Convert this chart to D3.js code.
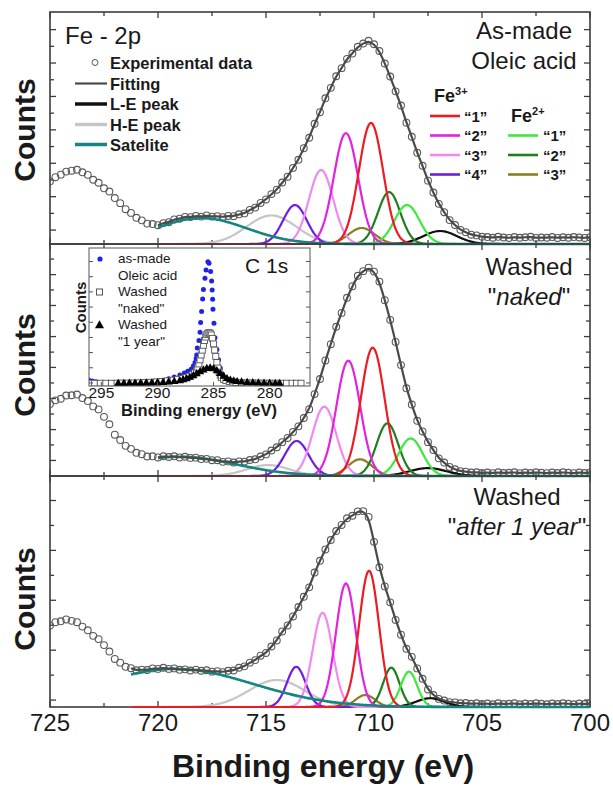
<!DOCTYPE html>
<html><head><meta charset="utf-8">
<script src="https://cdn.jsdelivr.net/npm/d3@7"></script>
<style>
body{margin:0;background:#fff}
svg{display:block}
text{font-family:"Liberation Sans",Arial,Helvetica,sans-serif;fill:#1a1a1a}
</style></head>
<body><svg id="chart" width="613" height="786"></svg>
<script>
// ---------------- DATA ----------------
// Experimental Fe 2p counts (arb. units, 0-100 of panel), 725 -> 700 eV every 0.25 eV
const energyStart = 725, energyStep = 0.25;
const asMadeCounts = [
 27.0,28.8,29.9,31.2,31.6,32.0,30.9,29.8,27.7,26.4,
 24.0,22.6,19.8,17.6,15.0,13.4,11.3,10.2,8.8,8.6,
 8.1,9.0,9.4,10.6,10.9,11.7,11.6,12.1,11.8,12.3,
 11.8,12.0,11.6,12.1,12.0,12.8,13.2,14.7,15.7,17.7,
 19.2,21.5,23.4,26.5,29.0,32.8,36.3,41.3,45.8,51.8,
 56.8,62.8,67.3,72.3,75.8,79.8,82.1,85.0,86.4,87.6,
 86.1,83.2,77.8,72.2,65.8,59.7,52.3,46.2,39.3,33.7,
 27.3,22.2,17.3,13.7,10.3,8.2,6.1,5.1,4.0,3.7,
 3.1,3.0,2.7,3.1,2.8,2.6,3.0,2.7,2.9,3.1,
 2.6,2.8,2.7,3.0,2.6,2.9,2.7,3.0,2.8,2.6,
 2.9];
const washedNakedCounts = [
 31.0,32.6,33.3,34.7,34.8,35.1,33.6,32.3,30.0,28.7,
 25.5,22.3,17.8,15.5,13.0,11.7,10.0,9.4,8.4,8.5,
 8.0,8.5,8.2,8.5,8.0,8.3,7.8,7.9,7.3,7.4,
 6.8,6.8,6.1,6.3,5.8,6.3,6.2,6.9,7.2,8.4,
 9.3,11.0,12.4,14.6,16.4,19.0,21.4,25.0,28.8,35.3,
 41.8,49.8,56.8,64.3,70.3,76.8,81.8,86.3,88.3,89.8,
 88.1,83.8,75.8,67.3,57.8,47.8,37.8,30.8,23.8,19.2,
 14.6,11.2,7.6,5.8,3.9,2.9,2.1,1.9,1.5,1.6,
 1.3,1.5,1.2,1.6,1.3,1.4,1.6,1.2,1.5,1.3,
 1.6,1.4,1.2,1.5,1.3,1.6,1.4,1.2,1.5,1.3,
 1.5];
const washedYearCounts = [
 35.3,36.7,37.1,37.9,37.3,36.7,34.8,33.2,30.8,29.4,
 26.8,24.0,20.8,19.2,17.4,16.8,15.9,16.2,16.0,16.7,
 16.5,17.0,16.5,16.7,16.1,16.3,15.8,16.2,15.7,15.9,
 15.3,15.5,15.1,15.7,15.8,17.0,17.6,19.2,20.3,22.2,
 23.4,26.2,28.8,32.7,35.3,39.2,43.3,47.7,51.8,58.2,
 63.3,68.2,72.3,76.2,78.8,81.7,82.8,84.7,84.8,82.3,
 71.5,60.5,52.2,45.3,37.7,31.3,25.2,21.7,16.7,12.2,
 7.6,5.2,3.5,2.8,2.1,2.0,1.6,1.7,1.4,1.6,
 1.3,1.5,1.2,1.6,1.3,1.4,1.6,1.2,1.5,1.3,
 1.6,1.4,1.2,1.5,1.3,1.6,1.4,1.2,1.5,1.3,
 1.5];
const fitStartEnergy = [720, 720, 721.25];

// Fitted components: Fe3+ "1".."4", Fe2+ "1".."3", L-E, H-E, Satelite
const componentNames = ["Fe3+ 1","Fe3+ 2","Fe3+ 3","Fe3+ 4","Fe2+ 1","Fe2+ 2","Fe2+ 3","L-E peak","H-E peak","Satelite"];
const peakCenters = [
 [710.14,711.30,712.45,713.66,708.47,709.30,710.57,706.94,714.75,718.0],
 [710.06,711.19,712.30,713.58,708.30,709.38,710.65,707.50,714.90,719.0],
 [710.23,711.30,712.38,713.60,708.38,709.20,710.40,707.40,714.50,719.2]];
const peakHeights = [
 [52.2,47.8,31.9,16.8,16.8,22.4,6.9,5.6,12.3,11.2],
 [55.3,49.7,29.9,15.1,16.2,22.7,7.2,3.4,4.7,8.3],
 [59.0,53.5,40.8,17.4,15.3,17.0,5.2,3.8,11.7,16.5]];
const peakWidths = [
 [0.56,0.56,0.56,0.55,0.58,0.52,0.60,0.78,1.15,2.1],
 [0.55,0.55,0.55,0.55,0.55,0.50,0.55,0.85,1.00,2.6],
 [0.46,0.46,0.46,0.43,0.38,0.38,0.45,0.65,1.30,3.6]];

// C 1s inset: [binding energy, counts]
const c1sAsMade = [[296.1,4.2],[295.8,3.6],[295.5,3.0],[295.2,2.6],[294.8,2.4],[294.4,2.3],[294,2.3],[293.5,2.3],[293,2.3],[292.5,2.4],[292,2.5],[291.5,2.6],[291,2.8],[290.5,3.0],[290,3.5],[289.5,4.2],[289,5.3],[288.5,6.5],[288,8.0],[287.6,9.4],[287.3,10.6],[287.0,12.2],[286.8,14.5],[286.65,17],[286.55,20],[286.5,22.5],[286.45,27.5],[286.3,33],[286.2,39],[286.15,46],[286.06,54],[285.97,63],[285.9,70],[285.76,78],[285.67,84],[285.5,90],[285.4,89],[285.26,83],[285.17,76],[285.12,69.6],[285.08,62.8],[285.05,55.6],[284.96,45.4],[284.87,35],[284.7,26.5],[284.55,19],[284.4,13],[284.2,8.5],[284,5.5],[283.7,3.8],[283.4,3]];
const c1sNaked = [[296.1,2],[295.6,2],[295.1,2],[294.6,2],[294.1,2],[293.6,2],[293.1,2.1],[292.6,2.1],[292.1,2.2],[291.6,2.3],[291.1,2.5],[290.6,2.7],[290.1,3],[289.6,3.3],[289.1,3.7],[288.6,4.2],[288.2,4.8],[287.8,5.5],[287.5,6.2],[287.2,7],[286.9,8.2],[286.7,9.5],[286.5,11.5],[286.4,13.5],[286.3,16],[286.2,19],[286.1,22.5],[286.0,26],[285.9,29.5],[285.8,33],[285.7,35.5],[285.6,37.3],[285.5,38.3],[285.4,38.6],[285.3,38.2],[285.2,37],[285.1,34.5],[285.0,30.5],[284.9,26],[284.8,21.5],[284.7,17],[284.6,13],[284.5,10],[284.4,7.8],[284.3,6.2],[284.1,4.8],[283.9,4],[283.6,3.3],[283.3,2.9],[283,2.6],[282.5,2.4],[282,2.3],[281.5,2.2],[281,2.1],[280.5,2.1],[280,2],[279.5,2],[279,2],[278.5,2],[278,2],[277.6,2],[277.2,2]];
const c1sOneYear = [[293.5,1.8],[293,1.8],[292.5,1.9],[292,1.9],[291.5,2],[291,2.1],[290.5,2.2],[290,2.3],[289.5,2.5],[289,2.8],[288.5,3.2],[288,3.8],[287.7,4.4],[287.4,5.2],[287.1,6.2],[286.8,7.4],[286.5,8.8],[286.2,10.3],[285.9,11.6],[285.6,12.6],[285.3,13],[285,12.5],[284.7,11],[284.4,9],[284.1,7],[283.8,5.3],[283.5,4.2],[283.2,3.5],[282.9,3.1],[282.5,2.8],[282,2.5],[281.5,2.3],[281,2.1],[280.5,2],[280,1.9],[279.5,1.8],[279.1,1.8]];

// Axis ticks / labels
const xTickLabels = [725,720,715,710,705,700];
const xMinorStep = 2.5;
const insetTickLabels = [295,290,285,280];
const yTicksPanel = [
 [6,13.2,20.4,27.6,34.8,42,49.2,56.4,63.6,70.8,78,85.2,92.4],
 [6.7,13.4,20,26.7,33.4,40.1,46.8,53.4,60.1,66.8,73.5,80.2,86.8,93.5],
 [3,13.8,24.6,35.4,46.2,57,67.8,78.6,89.4]];
const insetYTicks = [2.2,13.2,24.2,35.2,46.2,57.2,68.2,79.2,90.2];

// ---------------- STYLE / LAYOUT ----------------
const compColors = ["#ec1c24","#e024e0","#f08af0","#6e1ee0","#3ee83e","#1f7f1f","#8c7d1e","#111111","#c6c6c6","#15857f"];
const drawOrder = [8,7,6,5,4,3,2,1,0,9];
const plotLeft = 50, plotRight = 590;
const panelTop = [12, 244, 476], panelBottom = [244, 476, 707];

const svg = d3.select("#chart");
const x = d3.scaleLinear().domain([725,700]).range([plotLeft, plotRight]);
const expSets = [asMadeCounts, washedNakedCounts, washedYearCounts];
const frameColor = "#3c3c3c";

expSets.forEach((counts, i) => {
  const y = d3.scaleLinear().domain([0,100]).range([panelBottom[i], panelTop[i]]);
  const g = svg.append("g");
  g.append("rect").attr("x",plotLeft).attr("y",panelTop[i]).attr("width",plotRight-plotLeft)
    .attr("height",panelBottom[i]-panelTop[i]).attr("fill","none").attr("stroke",frameColor).attr("stroke-width",1.6);
  d3.range(700, 725.01, xMinorStep).forEach(e => {
    const major = Math.abs(e % 5) < 1e-6;
    const len = major ? 6 : 4;
    g.append("line").attr("x1",x(e)).attr("x2",x(e)).attr("y1",panelBottom[i]).attr("y2",panelBottom[i]-len).attr("stroke",frameColor).attr("stroke-width",1.3);
    g.append("line").attr("x1",x(e)).attr("x2",x(e)).attr("y1",panelTop[i]).attr("y2",panelTop[i]+len).attr("stroke",frameColor).attr("stroke-width",1.3);
  });
  yTicksPanel[i].forEach((v,k) => {
    const len = k % 2 === 0 ? 6 : 4;
    g.append("line").attr("x1",plotLeft).attr("x2",plotLeft+len).attr("y1",y(v)).attr("y2",y(v)).attr("stroke",frameColor).attr("stroke-width",1.3);
    g.append("line").attr("x1",plotRight).attr("x2",plotRight-len).attr("y1",y(v)).attr("y2",y(v)).attr("stroke",frameColor).attr("stroke-width",1.3);
  });

  const clipId = "clip" + i;
  svg.append("clipPath").attr("id",clipId).append("rect")
    .attr("x",plotLeft).attr("y",panelTop[i]).attr("width",plotRight-plotLeft).attr("height",panelBottom[i]-panelTop[i]+2);
  const inner = g.append("g").attr("clip-path",`url(#${clipId})`);

  const pts = counts.map((v,k) => [energyStart - k*energyStep, v]);
  inner.append("g").selectAll("circle").data(pts).join("circle")
    .attr("cx",d=>x(d[0])).attr("cy",d=>y(d[1])).attr("r",3.4)
    .attr("fill","none").attr("stroke","#5a5a5a").attr("stroke-width",1.1);

  const es = d3.range(fitStartEnergy[i], 699.99, -0.05);
  drawOrder.forEach(j => {
    const c = peakCenters[i][j], h = peakHeights[i][j], s = peakWidths[i][j];
    const line = d3.line().x(e=>x(e)).y(e=>y(h*Math.exp(-((e-c)*(e-c))/(2*s*s))));
    inner.append("path").attr("d",line(es)).attr("fill","none")
      .attr("stroke",compColors[j]).attr("stroke-width", j===9 ? 2.6 : 2.2);
  });

  const fitPts = pts.filter(d => d[0] <= fitStartEnergy[i] + 1e-9);
  inner.append("path").attr("d", d3.line().x(d=>x(d[0])).y(d=>y(d[1])).curve(d3.curveBasis)(fitPts))
    .attr("fill","none").attr("stroke","#4a4a4a").attr("stroke-width",2.2);
});

const countsCenters = [130, 365, 599];
countsCenters.forEach(cy => {
  svg.append("text").attr("transform",`translate(35,${cy}) rotate(-90)`).attr("text-anchor","middle")
    .attr("font-size",30).attr("font-weight","bold").attr("fill","#000").text("Counts");
});

xTickLabels.forEach(v => {
  svg.append("text").attr("x",x(v)).attr("y",731).attr("text-anchor","middle").attr("font-size",24).text(v);
});
svg.append("text").attr("x",323).attr("y",777).attr("text-anchor","middle").attr("font-size",32)
  .attr("font-weight","bold").attr("fill","#000").text("Binding energy (eV)");

svg.append("text").attr("x",65).attr("y",43.5).attr("font-size",24).text("Fe - 2p");
const titleCenters = [524, 529, 517];
const titleLine1 = ["As-made","Washed","Washed"];
const titleLine1Y = [38.5, 275, 505];
const titleLine2Y = [68.5, 305, 535];
const titleLine2 = [[["Oleic acid",false]], [["\"",false],["naked",true],["\"",false]], [["\"",false],["after 1 year",true],["\"",false]]];
titleLine1.forEach((t,i) => {
  svg.append("text").attr("x",titleCenters[i]).attr("y",titleLine1Y[i]).attr("text-anchor","middle").attr("font-size",24).text(t);
  const t2 = svg.append("text").attr("x",titleCenters[i]).attr("y",titleLine2Y[i]).attr("text-anchor","middle").attr("font-size",24);
  titleLine2[i].forEach(p => t2.append("tspan").attr("font-style", p[1] ? "italic" : "normal").text(p[0]));
});

const legendRowsY = [62.5, 83.5, 104, 124.5, 144.5];
const legendLabels = ["Experimental data","Fitting","L-E peak","H-E peak","Satelite"];
const legendColors = [null, "#4a4a4a", "#111111", "#c6c6c6", "#15857f"];
const legendWidths = [0, 2.2, 3.5, 3.5, 3.5];
legendLabels.forEach((lab,k) => {
  const yy = legendRowsY[k];
  if (k === 0) {
    svg.append("circle").attr("cx",95).attr("cy",yy).attr("r",3).attr("fill","none").attr("stroke","#555").attr("stroke-width",1);
  } else {
    svg.append("line").attr("x1",75).attr("x2",107).attr("y1",yy).attr("y2",yy).attr("stroke",legendColors[k]).attr("stroke-width",legendWidths[k]);
  }
  svg.append("text").attr("x",110).attr("y",yy+6).attr("font-size",16.5).attr("font-weight","bold").text(lab);
});

function feHeader(xx, yy, charge) {
  const t = svg.append("text").attr("x",xx).attr("y",yy).attr("font-size",18).attr("font-weight","bold");
  t.append("tspan").text("Fe");
  t.append("tspan").attr("dy",-7).attr("font-size",11).text(charge);
}
feHeader(434, 102, "3+");
feHeader(511, 122, "2+");
const feRowsY = [116, 135.5, 155, 174.5];
const fe3Labels = ["“1”","“2”","“3”","“4”"];
fe3Labels.forEach((lab,k) => {
  svg.append("line").attr("x1",430).attr("x2",460).attr("y1",feRowsY[k]).attr("y2",feRowsY[k]).attr("stroke",compColors[k]).attr("stroke-width",2.6);
  svg.append("text").attr("x",464).attr("y",feRowsY[k]+5.5).attr("font-size",15).attr("font-weight","bold").text(lab);
});
const fe2Labels = ["“1”","“2”","“3”"];
fe2Labels.forEach((lab,k) => {
  const yy = feRowsY[k+1];
  svg.append("line").attr("x1",508).attr("x2",538).attr("y1",yy).attr("y2",yy).attr("stroke",compColors[4+k]).attr("stroke-width",2.6);
  svg.append("text").attr("x",543).attr("y",yy+5.5).attr("font-size",15).attr("font-weight","bold").text(lab);
});

// ---------------- INSET (C 1s) ----------------
const ix = d3.scaleLinear().domain([296.1, 276.4]).range([89, 310]);
const iy = d3.scaleLinear().domain([0, 100]).range([386, 248]);
const ig = svg.append("g");
ig.append("rect").attr("x",89).attr("y",248).attr("width",221).attr("height",138).attr("fill","#fff");
svg.append("clipPath").attr("id","iclip").append("rect").attr("x",89).attr("y",248).attr("width",221).attr("height",138);
const idata = ig.append("g").attr("clip-path","url(#iclip)");
idata.append("g").selectAll("circle").data(c1sAsMade).join("circle")
  .attr("cx",d=>ix(d[0])).attr("cy",d=>iy(d[1])).attr("r",2.5).attr("fill","#1f23e6");
idata.append("g").selectAll("rect").data(c1sNaked).join("rect")
  .attr("x",d=>ix(d[0])-3).attr("y",d=>iy(d[1])-3).attr("width",6).attr("height",6)
  .attr("fill","#fff").attr("stroke","#555").attr("stroke-width",0.9);
const tri = d3.symbol().type(d3.symbolTriangle).size(30);
idata.append("g").selectAll("path").data(c1sOneYear).join("path")
  .attr("transform",d=>`translate(${ix(d[0])},${iy(d[1])})`).attr("d",tri).attr("fill","#000");
ig.append("rect").attr("x",89).attr("y",248).attr("width",221).attr("height",138).attr("fill","none").attr("stroke","#555").attr("stroke-width",1);
insetYTicks.forEach(v => {
  ig.append("line").attr("x1",89).attr("x2",93).attr("y1",iy(v)).attr("y2",iy(v)).attr("stroke","#555");
  ig.append("line").attr("x1",310).attr("x2",306).attr("y1",iy(v)).attr("y2",iy(v)).attr("stroke","#555");
});
insetTickLabels.forEach(v => {
  ig.append("line").attr("x1",ix(v)).attr("x2",ix(v)).attr("y1",386).attr("y2",382).attr("stroke","#555");
  ig.append("text").attr("x",ix(v)).attr("y",398).attr("text-anchor","middle").attr("font-size",15.5).text(v);
});
ig.append("text").attr("x",199).attr("y",416).attr("text-anchor","middle").attr("font-size",16.5).attr("font-weight","bold").text("Binding energy (eV)");
ig.append("text").attr("transform","translate(85.5,307.5) rotate(-90)").attr("text-anchor","middle").attr("font-size",15).attr("font-weight","bold").text("Counts");
ig.append("text").attr("x",245).attr("y",273).attr("font-size",21).text("C 1s");
ig.append("circle").attr("cx",100).attr("cy",259).attr("r",2.6).attr("fill","#1f23e6");
ig.append("rect").attr("x",96.5).attr("y",289).attr("width",6).attr("height",6).attr("fill","#fff").attr("stroke","#555");
ig.append("path").attr("transform","translate(99.5,325.5)").attr("d",d3.symbol().type(d3.symbolTriangle).size(36)).attr("fill","#000");
const insetLegendLines = ["as-made","Oleic acid","Washed","\"naked\"","Washed","\"1 year\""];
const insetLegendY = [263.3, 279.5, 296, 312.7, 329.3, 345.8];
insetLegendLines.forEach((t,k) => {
  ig.append("text").attr("x",118).attr("y",insetLegendY[k]).attr("font-size",13.5).text(t);
});
</script>
</body></html>
